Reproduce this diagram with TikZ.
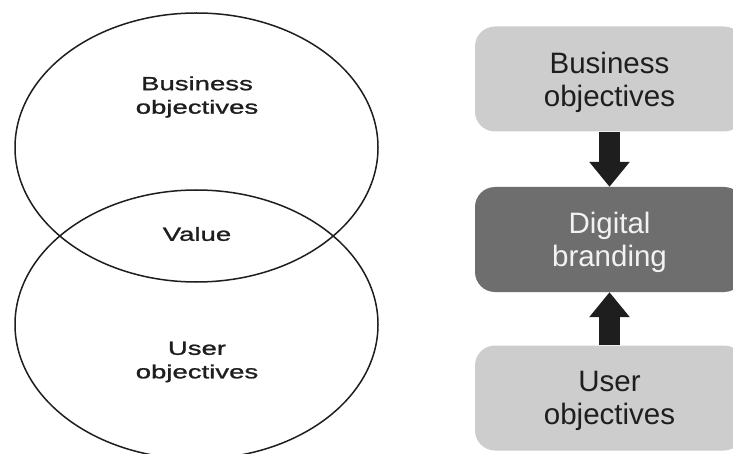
\documentclass[tikz,border=0pt]{standalone}
\usepackage{fontspec}
\setmainfont{Liberation Sans}
\newfontfamily\widesans[FakeStretch=1.45,FakeBold=1.2]{Liberation Sans}
\usetikzlibrary{shapes.geometric,arrows.meta}
\definecolor{inkdark}{HTML}{1E1E1E}
\definecolor{boxlight}{HTML}{CDCDCD}
\definecolor{boxdark}{HTML}{6E6E6E}
\definecolor{textlight}{HTML}{F2F2F2}
\tikzset{
  setshape/.style={ellipse, draw=inkdark, line width=1.5pt, inner sep=0pt,
    minimum width=363pt, minimum height=269pt},
  settext/.style={align=center, text=inkdark,
    font=\widesans\fontsize{19}{23.5}\selectfont},
  panel/.style={rectangle, rounded corners=20pt, inner sep=0pt,
    minimum width=269pt, minimum height=105pt, align=center,
    text depth=0pt, font=\fontsize{29.5}{33}\selectfont},
  lightpanel/.style={panel, fill=boxlight, text=inkdark},
  darkpanel/.style={panel, fill=boxdark, text=textlight},
  bigarrow/.style={draw=inkdark, line width=21pt,
    -{Triangle[width=39pt,length=25pt,fill=inkdark]}}
}
\begin{document}
\begin{tikzpicture}[x=1pt,y=-1pt]
  \useasboundingbox[fill=white] (0,0) rectangle (733,454);

  % Venn diagram of the two sets of objectives
  \node[setshape] (bizset) at (196.5,147.5) {};
  \node[setshape] (userset) at (196.5,324.5) {};
  \node[settext] (biztext) at (197,97) {Business\\objectives};
  \node[settext] (valuetext) at (197,234) {Value};
  \node[settext] (usertext) at (197,362) {User\\objectives};

  % Flow into the brand
  \node[lightpanel] (bizbox) at (609.5,79) {Business\\objectives};
  \node[darkpanel] (brandbox) at (609.5,239.5) {Digital\\branding};
  \node[lightpanel] (userbox) at (609.5,398) {User\\objectives};

  \draw[bigarrow] (bizbox.south) -- (brandbox.north);
  \draw[bigarrow] (userbox.north) -- (brandbox.south);
\end{tikzpicture}
\end{document}
